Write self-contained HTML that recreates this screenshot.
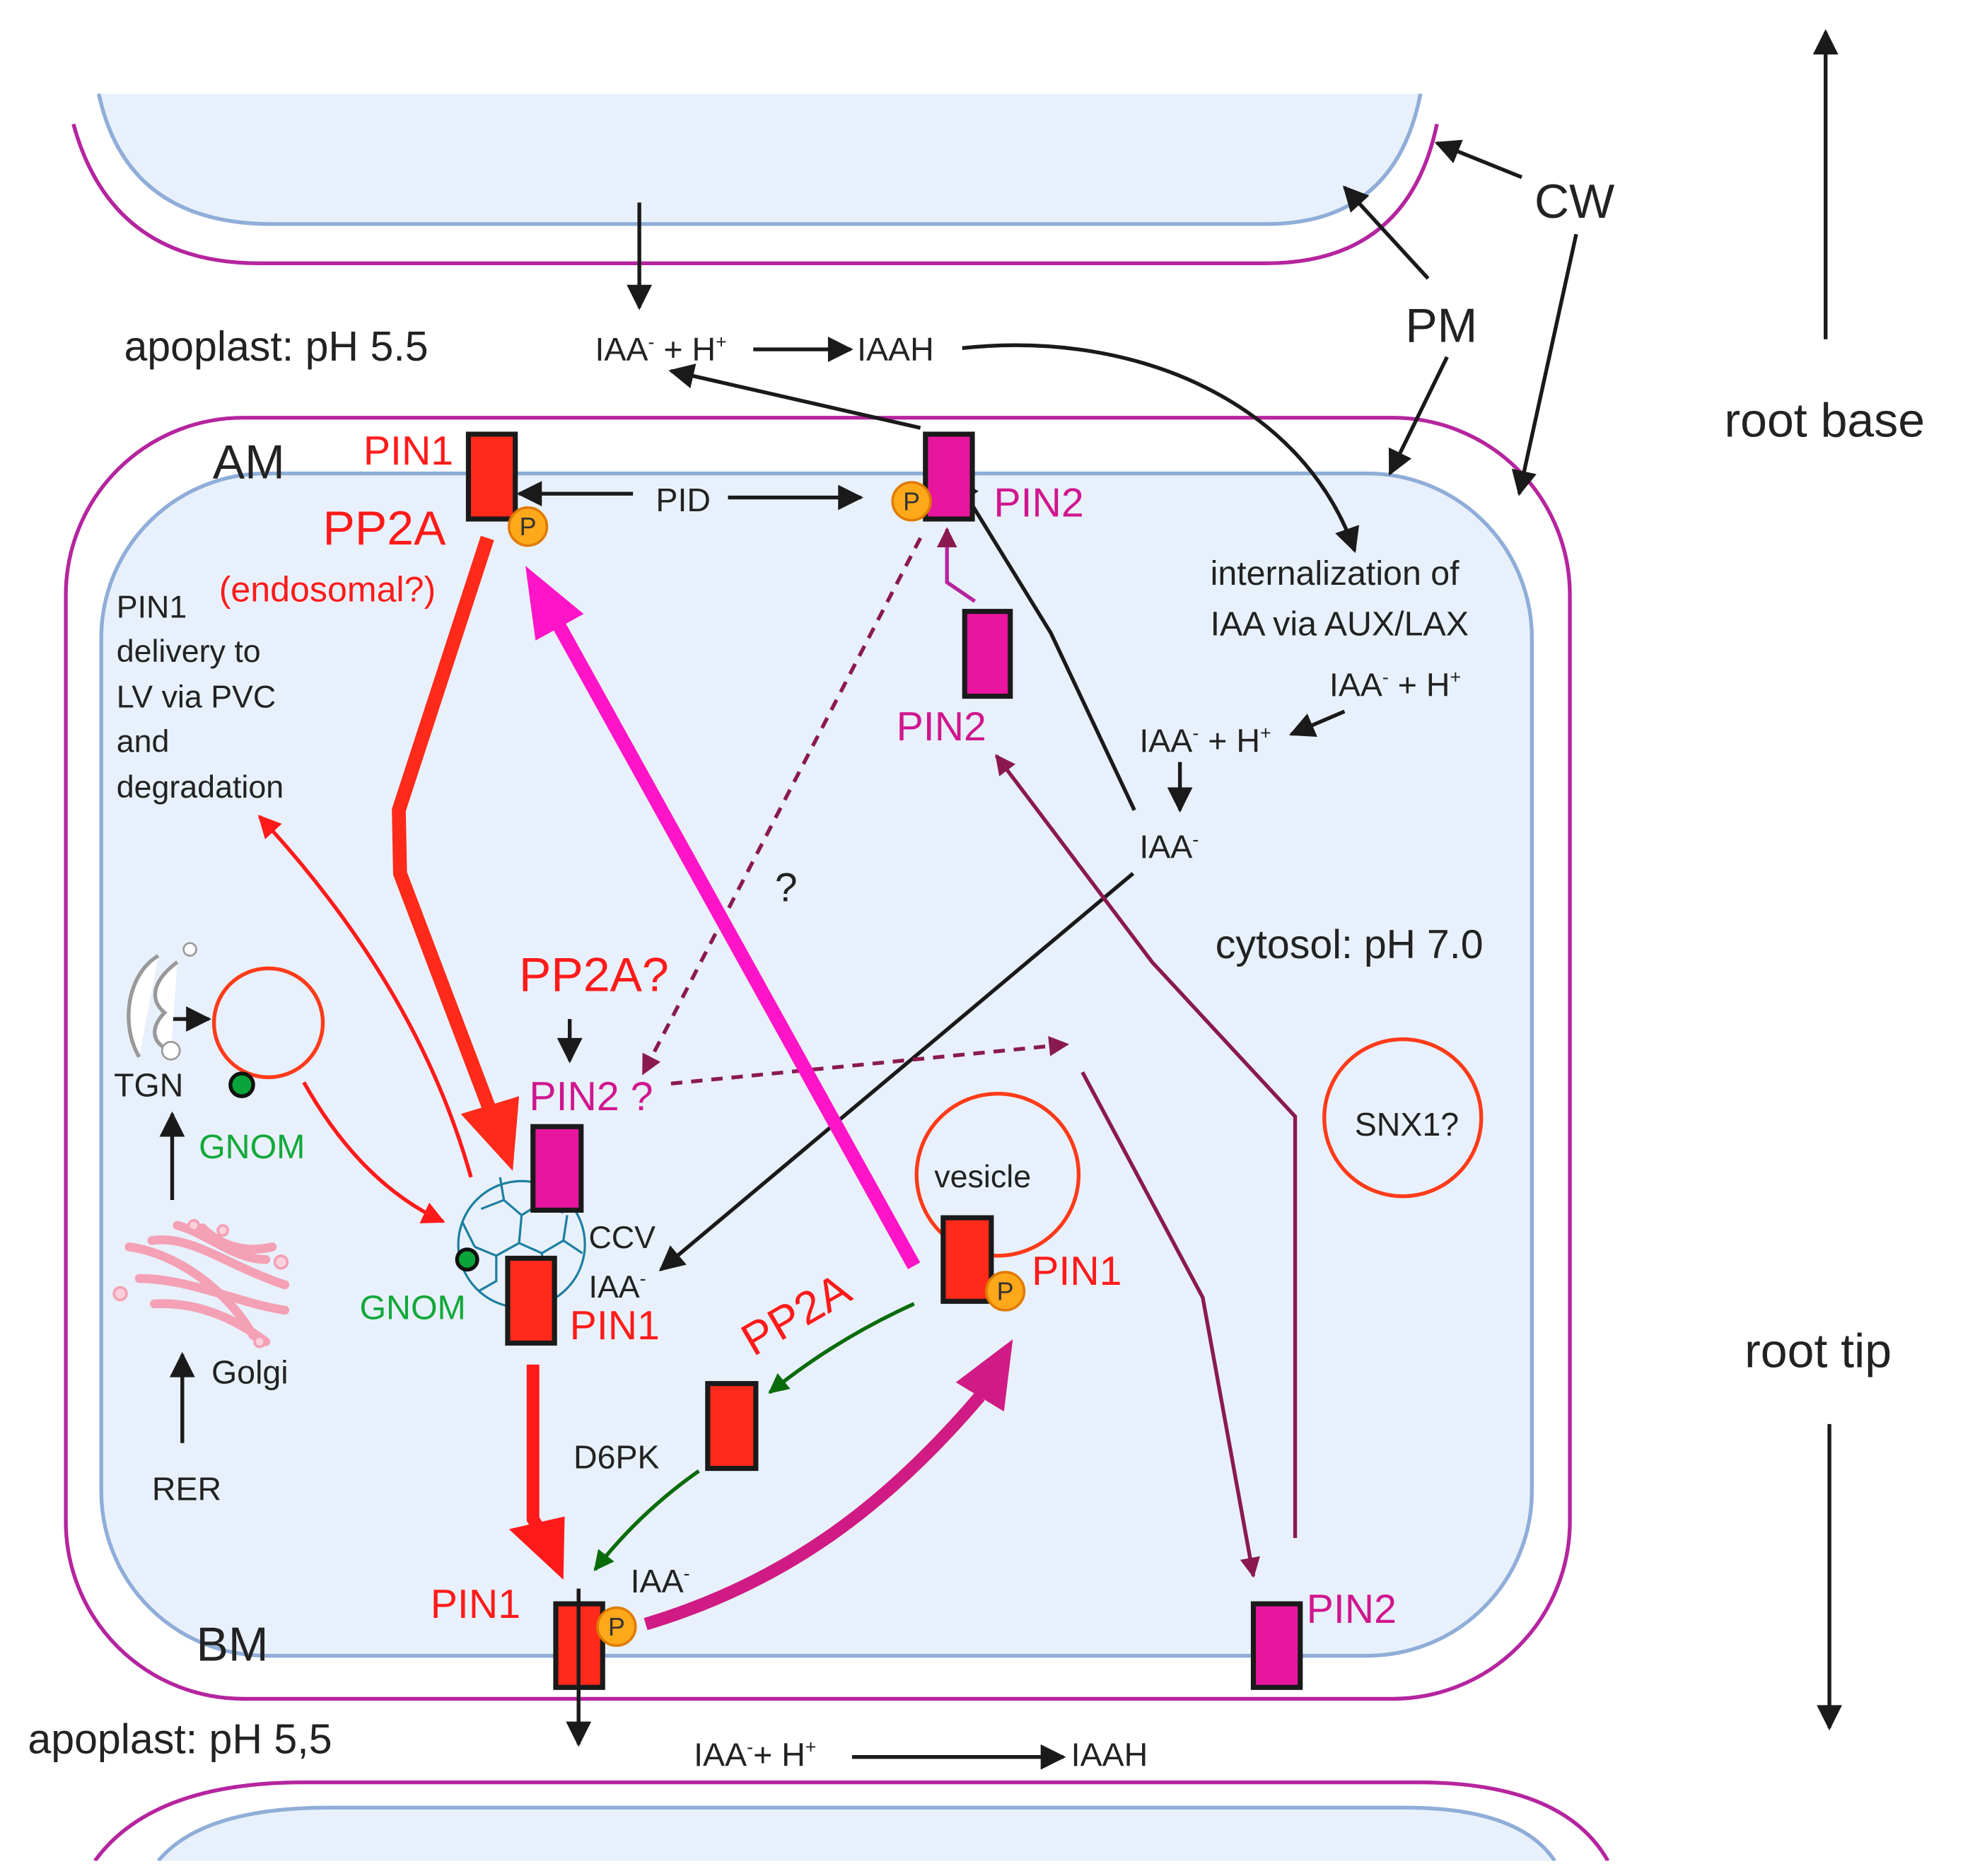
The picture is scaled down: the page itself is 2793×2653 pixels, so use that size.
<!DOCTYPE html>
<html><head><meta charset="utf-8"><style>html,body{margin:0;padding:0;background:#fff}svg{display:block}text{font-family:"Liberation Sans",sans-serif}</style></head><body>
<svg width="2793" height="2653" viewBox="0 0 1560 1482" preserveAspectRatio="none" xmlns="http://www.w3.org/2000/svg">
<defs>
<marker id="bk" viewBox="0 0 10 10" refX="9" refY="5" markerWidth="22" markerHeight="20" orient="auto" markerUnits="userSpaceOnUse"><path d="M0,0L10,5L0,10z" fill="#1a1a1a"/></marker>
<marker id="rd" viewBox="0 0 10 10" refX="9" refY="5" markerWidth="22" markerHeight="18" orient="auto" markerUnits="userSpaceOnUse"><path d="M0,0L10,5L0,10z" fill="#ff1a1a"/></marker>
<marker id="pu" viewBox="0 0 10 10" refX="9" refY="5" markerWidth="22" markerHeight="16" orient="auto" markerUnits="userSpaceOnUse"><path d="M0,0L10,5L0,10z" fill="#8a1a4e"/></marker>
<marker id="gr" viewBox="0 0 10 10" refX="9" refY="5" markerWidth="22" markerHeight="16" orient="auto" markerUnits="userSpaceOnUse"><path d="M0,0L10,5L0,10z" fill="#0a6b0a"/></marker>
</defs>
<rect width="1560" height="1482" fill="#fff"/>
<path d="M78,74 Q100,177 215,177 L1000,177 Q1102,177 1122,74 Z" fill="#e8f1fb"/>
<path d="M78,74 Q100,177 215,177 L1000,177 Q1102,177 1122,74" fill="none" stroke="#8fadd8" stroke-width="3"/>
<path d="M58,98 Q88,208 205,208 L1000,208 Q1112,208 1135,98" fill="none" stroke="#b5259e" stroke-width="3"/>
<rect x="52" y="330" width="1188" height="1012" rx="140" fill="#fff" stroke="#b5259e" stroke-width="3"/>
<rect x="80" y="374" width="1130" height="934" rx="130" fill="#e8f1fb" stroke="#8fadd8" stroke-width="3"/>
<path d="M75,1470 Q120,1408 240,1408 L1120,1408 Q1235,1408 1270,1470" fill="none" stroke="#b5259e" stroke-width="3"/>
<path d="M125,1470 Q160,1428 260,1428 L1110,1428 Q1200,1428 1228,1470 Z" fill="#e8f1fb"/>
<path d="M125,1470 Q160,1428 260,1428 L1110,1428 Q1200,1428 1228,1470" fill="none" stroke="#8fadd8" stroke-width="3"/>
<rect x="0" y="1470" width="1560" height="12" fill="#fff"/>

<g stroke="#1a1a1a" stroke-width="3" fill="none">
<line x1="505" y1="160" x2="505" y2="243" marker-end="url(#bk)"/>
<line x1="595" y1="276" x2="672" y2="276" marker-end="url(#bk)"/>
<line x1="727" y1="338" x2="530" y2="293" marker-end="url(#bk)"/>
<path d="M760,275 C900,260 1030,320 1070,435" marker-end="url(#bk)"/>
<line x1="1202" y1="140" x2="1135" y2="113" marker-end="url(#bk)"/>
<line x1="1245" y1="185" x2="1200" y2="390" marker-end="url(#bk)"/>
<line x1="1128" y1="220" x2="1062" y2="148" marker-end="url(#bk)"/>
<line x1="1143" y1="282" x2="1098" y2="374" marker-end="url(#bk)"/>
<line x1="1442" y1="268" x2="1442" y2="25" marker-end="url(#bk)"/>
<line x1="1445" y1="1125" x2="1445" y2="1365" marker-end="url(#bk)"/>
<line x1="500" y1="390" x2="410" y2="390" marker-end="url(#bk)"/>
<line x1="575" y1="393" x2="680" y2="393" marker-end="url(#bk)"/>
<path d="M896,640 L830,500 L755,378" marker-end="url(#bk)"/>
<line x1="1062" y1="562" x2="1020" y2="580" marker-end="url(#bk)"/>
<line x1="932" y1="602" x2="932" y2="640" marker-end="url(#bk)"/>
<line x1="895" y1="690" x2="522" y2="1003" marker-end="url(#bk)"/>
<line x1="450" y1="805" x2="450" y2="838" marker-end="url(#bk)"/>
<line x1="136" y1="948" x2="136" y2="880" marker-end="url(#bk)"/>
<line x1="135" y1="805" x2="165" y2="805" marker-end="url(#bk)"/>
<line x1="144" y1="1140" x2="144" y2="1070" marker-end="url(#bk)"/>
<line x1="457" y1="1255" x2="457" y2="1378" marker-end="url(#bk)"/>
<line x1="673" y1="1388" x2="840" y2="1388" marker-end="url(#bk)"/>
</g>
<g stroke="#8a1a4e" stroke-width="3" fill="none">
<line x1="727" y1="425" x2="508" y2="848" stroke-dasharray="9,7" marker-end="url(#pu)"/>
<line x1="530" y1="856" x2="843" y2="825" stroke-dasharray="9,7" marker-end="url(#pu)"/>
<path d="M1023,1215 L1023,882 L910,760 L787,597" marker-end="url(#pu)"/>
<path d="M855,847 L950,1025 L990,1245" marker-end="url(#pu)"/>
<path d="M770,475 L748,460 L748,418" stroke="#b5259e" marker-end="url(#pu)"/>
</g>
<path d="M722,1030 Q660,1058 608,1100" stroke="#0a6b0a" stroke-width="3" fill="none" marker-end="url(#gr)"/>
<path d="M552,1162 Q505,1195 470,1240" stroke="#0a6b0a" stroke-width="3" fill="none" marker-end="url(#gr)"/>
<path d="M372,930 Q330,780 205,645" stroke="#ff1a1a" stroke-width="3" fill="none" marker-end="url(#rd)"/>
<path d="M240,855 Q285,935 350,965" stroke="#ff1a1a" stroke-width="3" fill="none" marker-end="url(#rd)"/>
<path d="M385,425 L315,640 L316,690 L390,885" stroke="#ff2a1a" stroke-width="11" fill="none"/>
<polygon points="364,880 410,866 405,925" fill="#ff2a1a"/>
<path d="M421,1078 L421,1200 L430,1215" stroke="#ff1a1a" stroke-width="10" fill="none"/>
<polygon points="402,1208 446,1198 445,1248" fill="#ff1a1a"/>
<path d="M722,1000 L442,495" stroke="#ff14c8" stroke-width="11" fill="none"/>
<polygon points="415,447 461,485 423,506" fill="#ff14c8"/>
<path d="M510,1283 C620,1250 700,1190 774,1103" stroke="#d01a84" stroke-width="10" fill="none"/>
<polygon points="800,1058 793,1115 755,1092" fill="#d01a84"/>
<circle cx="212" cy="808" r="43" fill="none" stroke="#ff3b1a" stroke-width="3"/>
<circle cx="788" cy="928" r="64" fill="none" stroke="#ff3b1a" stroke-width="3"/>
<circle cx="1108" cy="883" r="62" fill="none" stroke="#ff3b1a" stroke-width="3"/>
<path d="M125,755 C100,770 95,810 110,835 M140,760 C120,775 118,790 130,800 C118,812 120,825 135,830" stroke="#999" stroke-width="3" fill="#fff"/>
<circle cx="150" cy="750" r="5" fill="#fff" stroke="#999" stroke-width="1.5"/>
<circle cx="135" cy="830" r="7" fill="#fff" stroke="#999" stroke-width="1.5"/>
<g stroke="#f4a0b5" stroke-width="7" fill="none" stroke-linecap="round">
<path d="M102,985 C140,990 180,1020 200,1055"/>
<path d="M110,1010 C150,1010 190,1030 225,1035"/>
<path d="M122,1030 C160,1028 190,1045 210,1060"/>
<path d="M120,980 C150,975 180,1000 225,1015"/>
<path d="M140,968 C165,975 185,995 210,995"/>
<path d="M160,970 C175,985 195,990 215,985"/>
</g>
<g fill="#fbd0dc" stroke="#f4a0b5" stroke-width="2"><circle cx="95" cy="1022" r="5"/><circle cx="222" cy="997" r="5"/><circle cx="153" cy="968" r="4"/><circle cx="176" cy="972" r="4"/><circle cx="205" cy="1060" r="4"/></g>
<g stroke="#1d7fa0" stroke-width="1.8" fill="none">
<circle cx="412" cy="983" r="50"/>
<path d="M380,955 L398,948 L412,960 L428,950 L445,958 M398,948 L395,930 M412,960 L410,982 L392,992 L375,985 M410,982 L428,990 L445,980 L448,960 M428,990 L430,1010 M392,992 L392,1012 L378,1020 M445,980 L460,990 M375,985 L365,965"/>
</g>
<circle cx="369" cy="995" r="8" fill="#0aa53a" stroke="#111" stroke-width="3"/>
<circle cx="191" cy="857" r="9" fill="#0aa53a" stroke="#111" stroke-width="3"/>
<g stroke="#1a1a1a" stroke-width="4">
<rect x="370" y="343" width="37" height="67" fill="#ff2a1a"/>
<rect x="731" y="343" width="37" height="67" fill="#e8169e"/>
<rect x="762" y="483" width="36" height="67" fill="#e8169e"/>
<rect x="421" y="890" width="38" height="66" fill="#e8169e"/>
<rect x="401" y="994" width="37" height="67" fill="#ff2a1a"/>
<rect x="745" y="962" width="38" height="66" fill="#ff2a1a"/>
<rect x="559" y="1093" width="38" height="67" fill="#ff2a1a"/>
<rect x="439" y="1267" width="37" height="66" fill="#ff2a1a"/>
<rect x="990" y="1267" width="37" height="66" fill="#e8169e"/>
</g>
<line x1="457" y1="1255" x2="457" y2="1340" stroke="#1a1a1a" stroke-width="3"/>
<g fill="#ffa81a" stroke="#e07b00" stroke-width="2">
<circle cx="417" cy="416" r="15"/><circle cx="720" cy="396" r="15"/><circle cx="794" cy="1020" r="15"/><circle cx="487" cy="1285" r="15"/>
</g>
<g font-size="20" fill="#333" text-anchor="middle"><text x="417" y="423">P</text><text x="720" y="403">P</text><text x="794" y="1027">P</text><text x="487" y="1292">P</text></g>
<g fill="#222">
<text x="98" y="285" font-size="33">apoplast: pH 5.5</text>
<text x="470" y="285" font-size="26">IAA<tspan font-size="15" dy="-10">-</tspan><tspan dy="10"> + H</tspan><tspan font-size="15" dy="-10">+</tspan></text>
<text x="677" y="285" font-size="26">IAAH</text>
<text x="1212" y="172" font-size="38">CW</text>
<text x="1110" y="270" font-size="38">PM</text>
<text x="1362" y="345" font-size="38">root base</text>
<text x="1378" y="1080" font-size="38">root tip</text>
<text x="168" y="378" font-size="38">AM</text>
<text x="155" y="1312" font-size="38">BM</text>
<text x="518" y="404" font-size="26">PID</text>
<text x="956" y="462" font-size="27">internalization of</text>
<text x="956" y="502" font-size="27">IAA via AUX/LAX</text>
<text x="1050" y="550" font-size="26">IAA<tspan font-size="15" dy="-10">-</tspan><tspan dy="10"> + H</tspan><tspan font-size="15" dy="-10">+</tspan></text>
<text x="900" y="594" font-size="26">IAA<tspan font-size="15" dy="-10">-</tspan><tspan dy="10"> + H</tspan><tspan font-size="15" dy="-10">+</tspan></text>
<text x="900" y="678" font-size="26">IAA<tspan font-size="15" dy="-10">-</tspan></text>
<text x="960" y="757" font-size="32">cytosol: pH 7.0</text>
<text x="612" y="712" font-size="32">?</text>
<g font-size="25"><text x="92" y="488">PIN1</text><text x="92" y="523">delivery to</text><text x="92" y="559">LV via PVC</text><text x="92" y="594">and</text><text x="92" y="630">degradation</text></g>
<text x="90" y="866" font-size="26">TGN</text>
<text x="167" y="1093" font-size="26">Golgi</text>
<text x="120" y="1185" font-size="26">RER</text>
<text x="465" y="986" font-size="25">CCV</text>
<text x="465" y="1025" font-size="25">IAA<tspan font-size="15" dy="-10">-</tspan></text>
<text x="738" y="938" font-size="25">vesicle</text>
<text x="453" y="1160" font-size="26">D6PK</text>
<text x="498" y="1258" font-size="26">IAA<tspan font-size="15" dy="-10">-</tspan></text>
<text x="1070" y="897" font-size="26">SNX1?</text>
<text x="22" y="1385" font-size="33">apoplast: pH 5,5</text>
<text x="548" y="1395" font-size="26">IAA<tspan font-size="15" dy="-10">-</tspan><tspan dy="10">+ H</tspan><tspan font-size="15" dy="-10">+</tspan></text>
<text x="846" y="1395" font-size="26">IAAH</text>
</g>
<g fill="#ff1a1a">
<text x="287" y="367" font-size="32">PIN1</text>
<text x="255" y="430" font-size="38">PP2A</text>
<text x="173" y="475" font-size="28">(endosomal?)</text>
<text x="410" y="783" font-size="38">PP2A?</text>
<text x="450" y="1058" font-size="32">PIN1</text>
<text x="815" y="1015" font-size="32">PIN1</text>
<text x="340" y="1278" font-size="32">PIN1</text>
<text x="595" y="1072" font-size="36" transform="rotate(-30 595 1072)">PP2A</text>
</g>
<g fill="#d0168e">
<text x="785" y="408" font-size="32">PIN2</text>
<text x="708" y="585" font-size="32">PIN2</text>
<text x="418" y="877" font-size="32">PIN2 ?</text>
<text x="1032" y="1282" font-size="32">PIN2</text>
</g>
<g fill="#12a83a" font-size="27"><text x="157" y="915">GNOM</text><text x="284" y="1042">GNOM</text></g>
</svg>
</body></html>
